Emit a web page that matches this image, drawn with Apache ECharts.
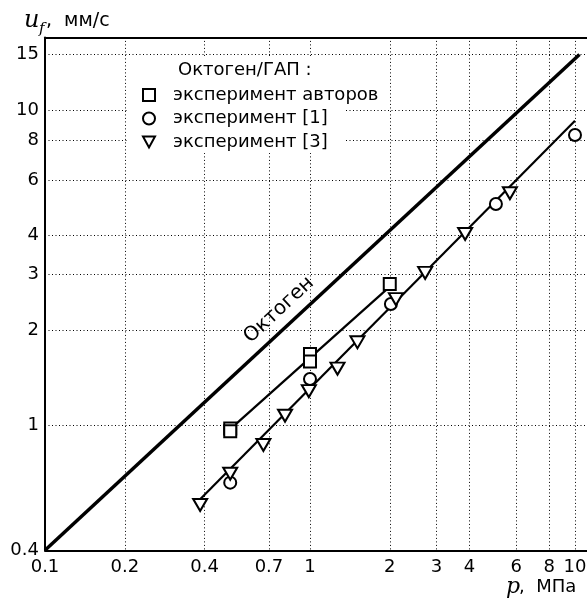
<!DOCTYPE html>
<html><head><meta charset="utf-8">
<script src="https://cdn.jsdelivr.net/npm/echarts@6/dist/echarts.min.js"></script>
<style>html,body{margin:0;padding:0;background:#fff}#c{width:587px;height:599px}</style>
</head><body><div id="c"></div>
<script>
// ---- data (p in MPa, u_f in mm/s) ----
const xTicks = [0.1, 0.2, 0.4, 0.7, 1, 2, 3, 4, 6, 8, 10];
const yTicks = [0.4, 1, 2, 3, 4, 6, 8, 10, 15];
const xRange = [0.1, 11.1];
const yRange = [0.4, 17];
const octogenLineP = [0.1, 10.4];
const octogenLineU = [0.4, 15];
const authorsLineP = [0.5, 2];
const authorsLineU = [0.97, 2.75];
const ref3LineP = [0.38, 10];
const ref3LineU = [0.575, 9.25];
const authorsP = [0.5, 0.5, 1, 1, 2];
const authorsU = [0.975, 0.955, 1.68, 1.59, 2.8];
const ref1P = [0.5, 1, 2.02, 5.03, 10];
const ref1U = [0.656, 1.40, 2.42, 5.03, 8.33];
const ref3P = [0.385, 0.5, 0.667, 0.805, 0.99, 1.27, 1.51, 2.11, 2.72, 3.85, 5.68];
const ref3U = [0.557, 0.70, 0.864, 1.07, 1.28, 1.51, 1.83, 2.51, 3.04, 4.04, 5.44];
const seriesNames = ['эксперимент авторов', 'эксперимент [1]', 'эксперимент [3]'];
const legendTitle = 'Октоген/ГАП :';
const lineName = 'Октоген';

const L = Math.log10;
const pairs = (ps, us) => ps.map((p, i) => [L(p), L(us[i])]);
const fmt = ticks => v => { const t = ticks.find(t => Math.abs(L(t) - v) < 1e-6); return t === undefined ? '' : String(t); };

const SANS = 'DejaVu Sans';
const grid = { left: 45, right: 0, top: 37.4, bottom: 48.7, outerBoundsMode: 'none', containLabel: false };
const dotted = { color: '#000', width: 1, type: [1, 2.5] };
const markerStyle = { color: '#fff', borderColor: '#000', borderWidth: 2, opacity: 1 };
const triDown = 'path://M0,0 L12,0 L6,11 Z';

const chart = echarts.init(document.getElementById('c'), null, { renderer: 'canvas' });
chart.setOption({
  backgroundColor: '#fff',
  animation: false,
  grid: grid,
  xAxis: [{
    type: 'value', min: L(xRange[0]), max: L(xRange[1]),
    axisLine: { show: true, onZero: false, lineStyle: { color: '#000', width: 2 } },
    axisTick: { show: false, customValues: xTicks.map(L) },
    axisLabel: { customValues: xTicks.map(L), formatter: fmt(xTicks), color: '#000', fontFamily: SANS, fontSize: 18, margin: 8, showMinLabel: true, showMaxLabel: true },
    splitLine: { show: true, lineStyle: dotted }
  }, {
    type: 'value', position: 'top', min: L(xRange[0]), max: L(xRange[1]),
    axisLine: { show: true, onZero: false, lineStyle: { color: '#000', width: 2 } },
    axisTick: { show: false }, axisLabel: { show: false }, splitLine: { show: false }
  }],
  yAxis: {
    type: 'value', min: L(yRange[0]), max: L(yRange[1]),
    axisLine: { show: true, onZero: false, lineStyle: { color: '#000', width: 2 } },
    axisTick: { show: false, customValues: yTicks.map(L) },
    axisLabel: { customValues: yTicks.map(L), formatter: fmt(yTicks), color: '#000', fontFamily: SANS, fontSize: 18, margin: 6, showMinLabel: true },
    splitLine: { show: true, lineStyle: dotted }
  },
  legend: {
    data: seriesNames,
    orient: 'vertical', left: 142, top: 85, padding: 0,
    itemWidth: 12, itemHeight: 12, itemGap: 3.5,
    itemStyle: { color: '#fff', borderColor: '#000', borderWidth: 2, opacity: 1 },
    textStyle: { color: '#000', fontFamily: SANS, fontSize: 18, lineHeight: 20, padding: [0, 0, 0, 13] },
    selectedMode: false
  },
  graphic: [
    { type: 'rect', shape: { x: 127, y: 57, width: 218, height: 96 }, style: { fill: '#fff' }, z: 1, silent: true },
    { type: 'text', x: 178, y: 70, z: 5, style: { text: legendTitle, fill: '#000', font: '18px "DejaVu Sans"', verticalAlign: 'middle' } },
    { type: 'text', x: 24, y: 21, z: 5, style: { text: 'u', fill: '#000', font: 'italic 24px "DejaVu Serif"', verticalAlign: 'middle' } },
    { type: 'text', x: 39, y: 29, z: 5, style: { text: 'f', fill: '#000', font: 'italic 15px "DejaVu Serif"', verticalAlign: 'middle' } },
    { type: 'text', x: 46, y: 21, z: 5, style: { text: ',  мм/с', fill: '#000', font: '19px "DejaVu Sans"', verticalAlign: 'middle' } },
    { type: 'text', x: 506, y: 587, z: 5, style: { text: 'p', fill: '#000', font: 'italic 22px "DejaVu Serif"', verticalAlign: 'middle' } },
    { type: 'text', x: 519, y: 587, z: 5, style: { text: ',  МПа', fill: '#000', font: '18px "DejaVu Sans"', verticalAlign: 'middle' } },
    { type: 'text', x: 279, y: 310, z: 5, rotation: 42.8 * Math.PI / 180,
      style: { text: lineName, fill: '#000', font: '20px "DejaVu Sans"', align: 'center', verticalAlign: 'middle' } }
  ],
  series: [
    { type: 'line', name: 'Октоген-линия', data: pairs(octogenLineP, octogenLineU), symbol: 'none', lineStyle: { color: '#000', width: 3.5 }, z: 2, silent: true },
    { type: 'line', name: 'авторы-линия', data: pairs(authorsLineP, authorsLineU), symbol: 'none', lineStyle: { color: '#000', width: 2.2 }, z: 2, silent: true },
    { type: 'line', name: 'ref3-линия', data: pairs(ref3LineP, ref3LineU), symbol: 'none', lineStyle: { color: '#000', width: 2.2 }, z: 2, silent: true },
    { type: 'scatter', name: seriesNames[0], data: pairs(authorsP, authorsU), symbol: 'rect', symbolSize: 12, itemStyle: markerStyle, z: 3 },
    { type: 'scatter', name: seriesNames[1], data: pairs(ref1P, ref1U), symbol: 'circle', symbolSize: 12, itemStyle: markerStyle, z: 3 },
    { type: 'scatter', name: seriesNames[2], data: pairs(ref3P, ref3U), symbol: triDown, symbolSize: [14, 12], itemStyle: markerStyle, z: 3 }
  ]
});
</script></body></html>
